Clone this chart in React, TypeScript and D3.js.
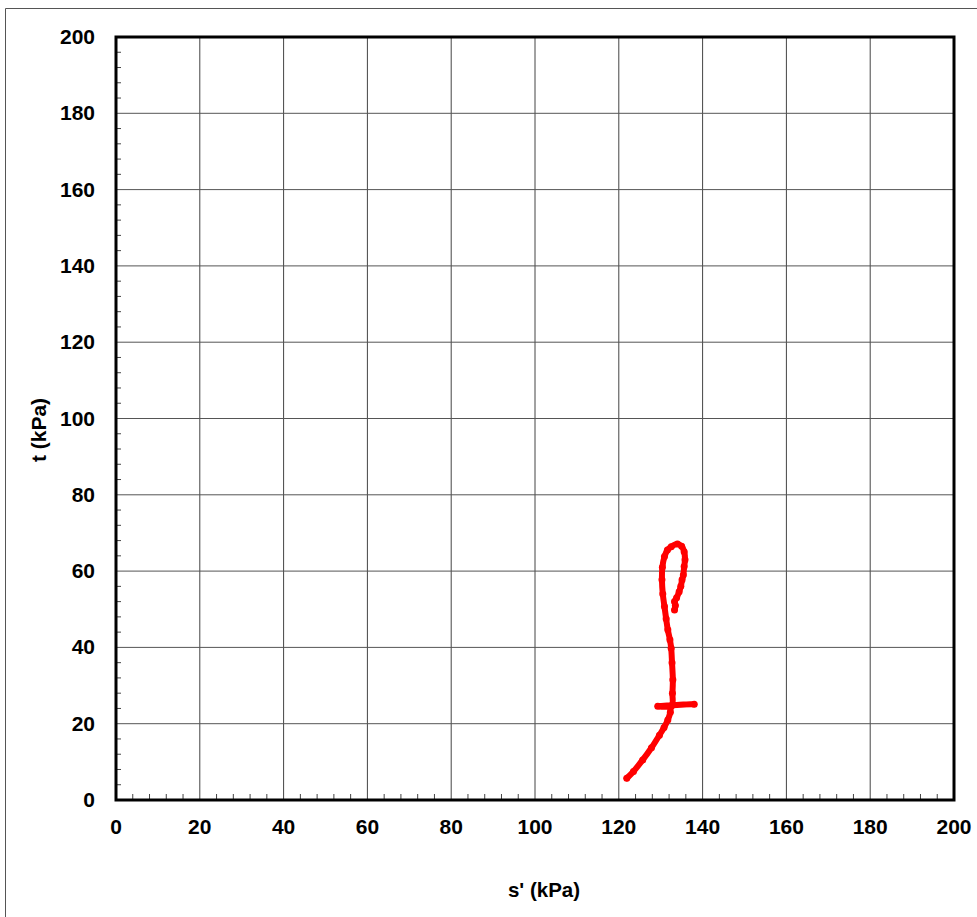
import React from "react";
import * as d3 from "d3";

const sValues = [121.9, 123.5, 125.7, 127.8, 129.7, 130.8, 131.7, 132.3, 132.5, 138.0, 129.3, 132.6, 132.8, 132.9, 132.7, 132.5, 132.2, 131.7, 131.3, 130.9, 130.5, 130.3, 130.4, 130.9, 131.6, 132.5, 134.0, 135.0, 135.6, 135.8, 135.6, 135.4, 135.1, 134.8, 134.4, 133.8, 133.3, 133.5, 133.3];
const tValues = [5.7, 7.5, 10.5, 13.7, 17, 19, 21, 23, 24.5, 25.1, 24.6, 24.8, 28, 31.5, 36, 39.8, 42, 44.6, 47.5, 50.7, 54, 57.7, 61, 63.8, 65.5, 66.4, 67.1, 66.5, 65.1, 63, 61.2, 59, 57.7, 56, 54.6, 53, 52, 51, 49.8];
const xTicks = [0, 20, 40, 60, 80, 100, 120, 140, 160, 180, 200];
const yTicks = [0, 20, 40, 60, 80, 100, 120, 140, 160, 180, 200];
const xLabel = "s' (kPa)";
const yLabel = "t (kPa)";

export default function App() {
  const W = 977, H = 917;
  const left = 116, right = 954, top = 37, bottom = 800;
  const x = d3.scaleLinear().domain([0, 200]).range([left, right]);
  const y = d3.scaleLinear().domain([0, 200]).range([bottom, top]);
  const minor = d3.range(0, 201, 4).filter((v) => v % 20 !== 0);
  const pts = sValues.map((s, i) => [s, tValues[i]] as [number, number]);
  const line = d3.line<[number, number]>().x((d) => x(d[0])).y((d) => y(d[1])).curve(d3.curveCatmullRom.alpha(0.5));
  const font = "'Liberation Sans', Arial, sans-serif";
  return (
    <svg width={W} height={H} style={{ position: "absolute", left: 0, top: 0 }}>
      <rect x={0} y={0} width={W} height={H} fill="#fff" />
      <path d={`M5.5,${H}V8.5H${W}`} fill="none" stroke="#555" strokeWidth={1} />
      {xTicks.slice(1, -1).map((v) => (
        <line key={"gx" + v} x1={x(v)} x2={x(v)} y1={top} y2={bottom} stroke="#444" strokeWidth={1} />
      ))}
      {yTicks.slice(1, -1).map((v) => (
        <line key={"gy" + v} x1={left} x2={right} y1={y(v)} y2={y(v)} stroke="#555" strokeWidth={1} />
      ))}
      {minor.map((v) => (
        <line key={"mx" + v} x1={x(v)} x2={x(v)} y1={bottom} y2={bottom - 6} stroke="#444" strokeWidth={1} />
      ))}
      {minor.map((v) => (
        <line key={"my" + v} x1={left} x2={left + 5} y1={y(v)} y2={y(v)} stroke="#444" strokeWidth={1} />
      ))}
      <rect x={left} y={top} width={right - left} height={bottom - top} fill="none" stroke="#000" strokeWidth={3} />
      <path d={line(pts) || ""} fill="none" stroke="#ff0000" strokeWidth={6} strokeLinejoin="round" strokeLinecap="round" />
      {pts.map((p, i) => (
        <circle key={"p" + i} cx={x(p[0])} cy={y(p[1])} r={3.5} fill="#ff0000" />
      ))}
      {xTicks.map((v) => (
        <text key={"xl" + v} x={x(v)} y={834} textAnchor="middle" fontFamily={font} fontWeight="bold" fontSize={21} fill="#000">{v}</text>
      ))}
      {yTicks.map((v) => (
        <text key={"yl" + v} x={95} y={y(v) + 7} textAnchor="end" fontFamily={font} fontWeight="bold" fontSize={21} fill="#000">{v}</text>
      ))}
      <text x={544} y={897} textAnchor="middle" fontFamily={font} fontWeight="bold" fontSize={20.5} fill="#000">{xLabel}</text>
      <text transform={`translate(46,430) rotate(-90)`} textAnchor="middle" fontFamily={font} fontWeight="bold" fontSize={21} fill="#000">{yLabel}</text>
    </svg>
  );
}
